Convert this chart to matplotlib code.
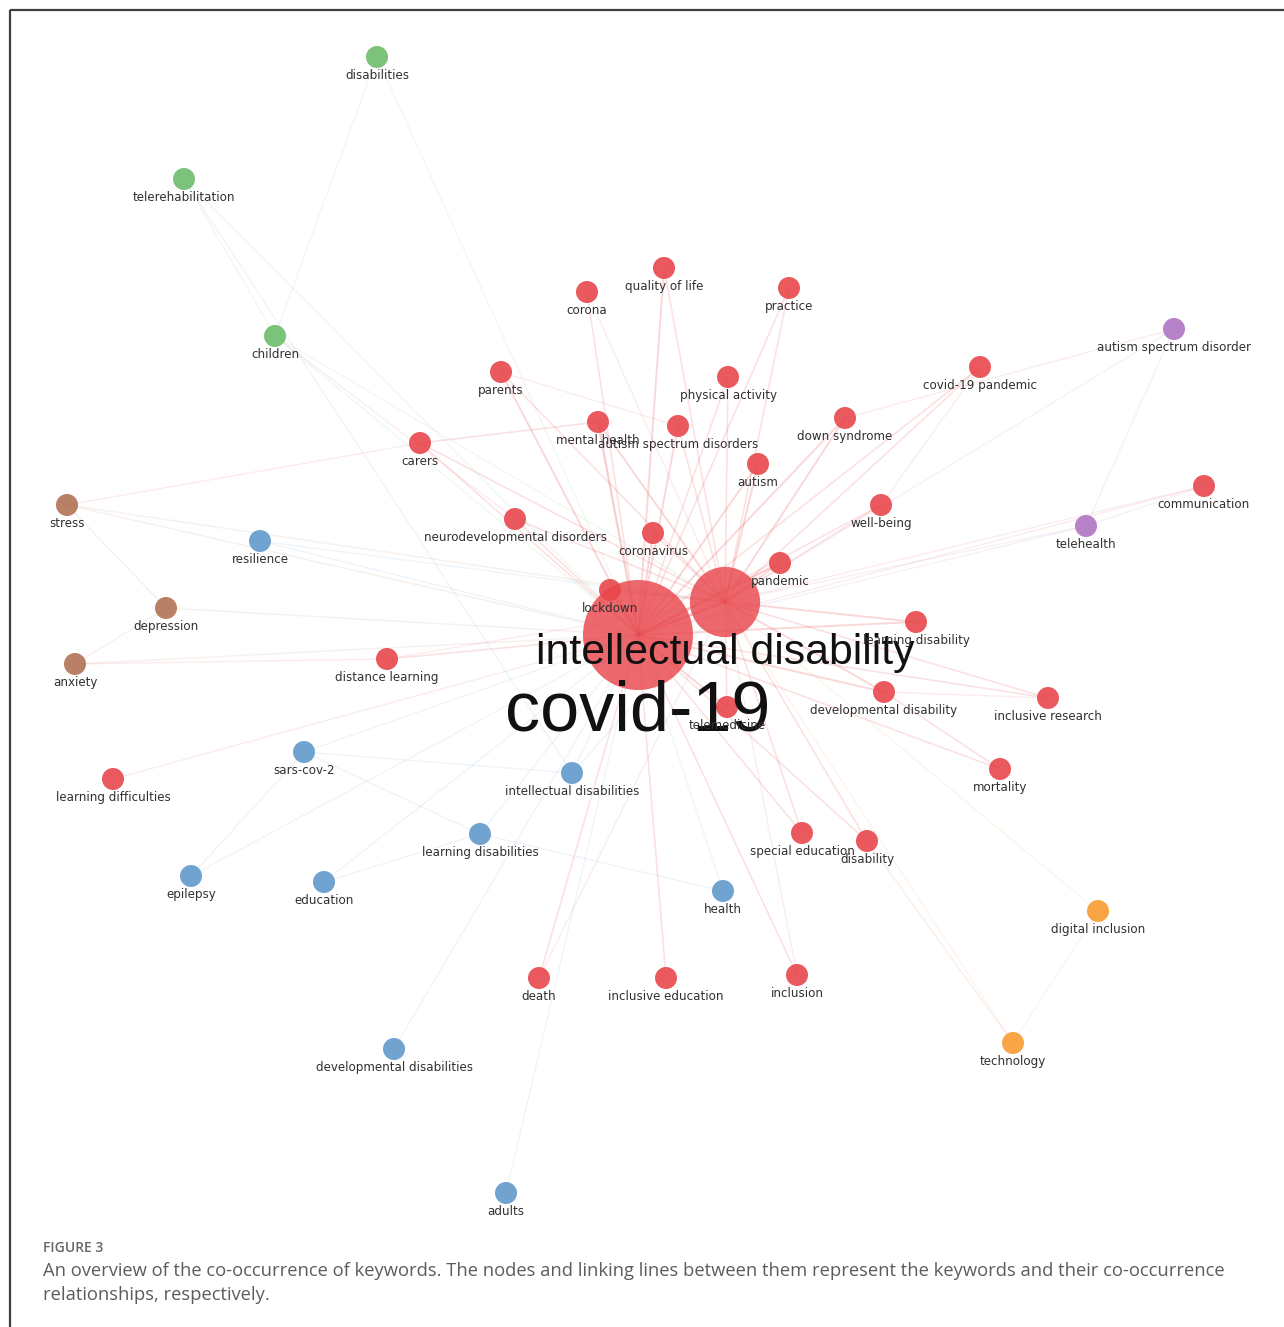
import matplotlib
matplotlib.use("Agg")
import matplotlib.pyplot as plt
from matplotlib.patches import Circle
import numpy as np

# ---------------- data ----------------
names = [
    "disabilities", "telerehabilitation", "children",
    "quality of life", "corona", "practice", "parents", "physical activity",
    "covid-19 pandemic", "mental health", "autism spectrum disorders",
    "down syndrome", "carers", "autism", "communication", "well-being",
    "neurodevelopmental disorders", "coronavirus", "pandemic", "lockdown",
    "covid-19", "intellectual disability", "learning disability",
    "distance learning", "developmental disability", "inclusive research",
    "telemedicine", "mortality", "learning difficulties", "special education",
    "disability", "death", "inclusive education", "inclusion",
    "resilience", "sars-cov-2", "intellectual disabilities",
    "learning disabilities", "epilepsy", "education", "health",
    "developmental disabilities", "adults",
    "stress", "depression", "anxiety",
    "autism spectrum disorder", "telehealth",
    "digital inclusion", "technology",
]
node_x = [
    377, 184, 275,
    664, 587, 789, 501, 728,
    980, 598, 678,
    845, 420, 758, 1204, 881,
    515, 653, 780, 610,
    638, 725, 916,
    387, 884, 1048,
    727, 1000, 113, 802,
    867, 539, 666, 797,
    260, 304, 572,
    480, 191, 324, 723,
    394, 506,
    67, 166, 75,
    1174, 1086,
    1098, 1013,
]
node_y = [
    57, 179, 336,
    268, 292, 288, 372, 377,
    367, 422, 426,
    418, 443, 464, 486, 505,
    519, 533, 563, 590,
    635, 602, 622,
    659, 692, 698,
    707, 769, 779, 833,
    841, 978, 978, 975,
    541, 752, 773,
    834, 876, 882, 891,
    1049, 1193,
    505, 608, 664,
    329, 526,
    911, 1043,
]
occurrences = [
    5, 5, 5,
    5, 5, 5, 5, 5,
    5, 5, 5,
    5, 5, 5, 5, 5,
    5, 5, 5, 5,
    125, 51, 5,
    5, 5, 5,
    5, 5, 5, 5,
    5, 5, 5, 5,
    5, 5, 5,
    5, 5, 5, 5,
    5, 5,
    5, 5, 5,
    5, 5,
    5, 5,
]
clusters = [
    "green", "green", "green",
    "red", "red", "red", "red", "red",
    "red", "red", "red",
    "red", "red", "red", "red", "red",
    "red", "red", "red", "red",
    "red", "red", "red",
    "red", "red", "red",
    "red", "red", "red", "red",
    "red", "red", "red", "red",
    "blue", "blue", "blue",
    "blue", "blue", "blue", "blue",
    "blue", "blue",
    "brown", "brown", "brown",
    "purple", "purple",
    "orange", "orange",
]

hub_a = "covid-19"
hub_b = "intellectual disability"
links_a = [
    ("intellectual disability", 5), ("lockdown", 4), ("pandemic", 4),
    ("coronavirus", 3), ("mental health", 4), ("autism spectrum disorders", 3),
    ("autism", 3), ("down syndrome", 3), ("physical activity", 2),
    ("quality of life", 3), ("corona", 2), ("practice", 2), ("parents", 3),
    ("carers", 2), ("neurodevelopmental disorders", 2), ("well-being", 2),
    ("covid-19 pandemic", 2), ("learning disability", 3),
    ("developmental disability", 3), ("inclusive research", 2),
    ("telemedicine", 3), ("mortality", 2), ("special education", 2),
    ("disability", 2), ("death", 2), ("inclusive education", 2),
    ("inclusion", 2), ("distance learning", 2), ("learning difficulties", 1),
    ("communication", 1), ("stress", 1), ("anxiety", 1), ("depression", 1),
    ("resilience", 1), ("intellectual disabilities", 1), ("sars-cov-2", 1),
    ("learning disabilities", 1), ("education", 1), ("health", 1),
    ("developmental disabilities", 1), ("adults", 1), ("epilepsy", 1),
    ("disabilities", 1), ("telerehabilitation", 1), ("children", 1),
    ("telehealth", 1),
]
links_b = [
    ("quality of life", 2), ("practice", 2), ("physical activity", 2),
    ("mental health", 3), ("autism spectrum disorders", 2), ("down syndrome", 3),
    ("autism", 3), ("well-being", 2), ("pandemic", 3), ("lockdown", 3),
    ("coronavirus", 2), ("learning disability", 3),
    ("developmental disability", 3), ("telemedicine", 2),
    ("special education", 2), ("disability", 2), ("inclusion", 1),
    ("covid-19 pandemic", 2), ("autism spectrum disorder", 1),
    ("telehealth", 1), ("communication", 1), ("parents", 2), ("corona", 1),
    ("inclusive research", 2), ("technology", 1), ("digital inclusion", 1),
    ("intellectual disabilities", 1), ("death", 1),
    ("neurodevelopmental disorders", 2), ("carers", 2), ("resilience", 1),
    ("stress", 1), ("distance learning", 1), ("children", 1),
]
links_other = [
    ("children", "disabilities", 1), ("children", "telerehabilitation", 1),
    ("stress", "depression", 1), ("depression", "anxiety", 1),
    ("anxiety", "distance learning", 1), ("stress", "carers", 1),
    ("autism spectrum disorder", "telehealth", 1),
    ("autism spectrum disorder", "down syndrome", 1),
    ("communication", "telehealth", 1),
    ("technology", "digital inclusion", 1), ("technology", "disability", 1),
    ("epilepsy", "sars-cov-2", 1), ("sars-cov-2", "intellectual disabilities", 1),
    ("sars-cov-2", "learning disabilities", 1),
    ("health", "learning disabilities", 1),
    ("carers", "mental health", 2), ("parents", "autism spectrum disorders", 1),
    ("mortality", "developmental disability", 2),
    ("inclusive research", "developmental disability", 1),
    ("well-being", "covid-19 pandemic", 1),
    ("education", "learning disabilities", 1),
    ("telerehabilitation", "intellectual disabilities", 1),
    ("children", "neurodevelopmental disorders", 1),
]

caption_title = "FIGURE 3"
caption_lines = [
    "An overview of the co-occurrence of keywords. The nodes and linking lines between them represent the keywords and their co-occurrence",
    "relationships, respectively.",
]

# ---------------- styles ----------------
palette = {
    "red": "#e8474c", "blue": "#6299cc", "green": "#6dbd6d",
    "brown": "#b17253", "purple": "#af76c2", "orange": "#f99b31",
}

W, H = 1284, 1327
fig = plt.figure(figsize=(W / 100, H / 100), dpi=100)
ax = fig.add_axes([0, 0, 1, 1])
ax.set_xlim(0, W)
ax.set_ylim(H, 0)
ax.axis("off")

idx = {n: i for i, n in enumerate(names)}
radius = [11 * np.sqrt(o / 5) for o in occurrences]


def draw_edge(a, b, w):
    i, j = idx[a], idx[b]
    col = palette[clusters[j]]
    ax.plot([node_x[i], node_x[j]], [node_y[i], node_y[j]], color=col,
            alpha=0.045 + 0.055 * w, lw=0.8 + 0.2 * w, zorder=1,
            solid_capstyle="round")


for n, w in links_a:
    draw_edge(hub_a, n, w)
for n, w in links_b:
    if n == hub_a:
        continue
    draw_edge(hub_b, n, w)
for a, b, w in links_other:
    draw_edge(a, b, w)

# nodes
for i, n in enumerate(names):
    big = occurrences[i] > 20
    c = Circle((node_x[i], node_y[i]), radius[i],
               facecolor=palette[clusters[i]],
               alpha=0.82 if big else 0.9, edgecolor="none", zorder=2)
    ax.add_patch(c)

# labels
for i, n in enumerate(names):
    r = radius[i]
    if occurrences[i] > 20:
        fs = 8.6 * (r / 11) ** 1.1
        fam = ["Liberation Sans", "DejaVu Sans"]
        col = "#111111"
    else:
        fs = 8.6
        fam = ["DejaVu Sans"]
        col = "#303030"
    off = r * 1.2 + 4 + fs * 0.15
    ax.text(node_x[i], node_y[i] + off, n, ha="center", va="center",
            fontsize=fs, family=fam, color=col, zorder=3)

# frame lines (top + left)
ax.plot([10, W], [10, 10], color="#404040", lw=1.6, zorder=4,
        solid_capstyle="butt")
ax.plot([10, 10], [10, H], color="#404040", lw=1.6, zorder=4,
        solid_capstyle="butt")

# caption
ax.text(43, 1248, caption_title, ha="left", va="center", fontsize=10,
        family=["Open Sans", "DejaVu Sans"], fontweight="semibold",
        color="#666666")
for k, line in enumerate(caption_lines):
    ax.text(43, 1271 + 24 * k, line, ha="left", va="center", fontsize=13.28,
            family=["Open Sans", "DejaVu Sans"], color="#5c5c5c")

fig.savefig("out.png", dpi=100)
